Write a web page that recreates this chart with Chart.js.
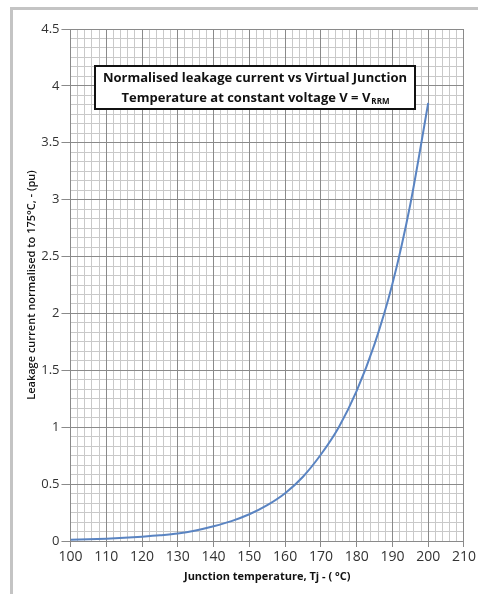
<!DOCTYPE html>
<html>
<head>
<meta charset="utf-8">
<script src="https://cdn.jsdelivr.net/npm/chart.js@4/dist/chart.umd.min.js"></script>
<style>
  html, body { margin: 0; padding: 0; background: #fff; }
  #wrap { width: 478px; height: 594px; position: relative; }
</style>
</head>
<body>
<div id="wrap"><canvas id="leakChart"></canvas></div>
<script>
// junction temperature (°C) and normalised leakage current (pu)
const tempC = [100, 105, 110, 115, 120, 125, 130, 135, 140, 145, 150, 155, 160, 165, 170, 175, 180, 185, 190, 195, 200];
const leakPu = [0.012, 0.015, 0.02, 0.028, 0.038, 0.05, 0.066, 0.093, 0.13, 0.175, 0.235, 0.315, 0.42, 0.565, 0.76, 1.0, 1.32, 1.73, 2.26, 2.96, 3.85];

const xTicks = [100, 110, 120, 130, 140, 150, 160, 170, 180, 190, 200, 210];
const yTicks = [0, 0.5, 1, 1.5, 2, 2.5, 3, 3.5, 4, 4.5];

const titleLines = ['Normalised leakage current vs Virtual Junction', 'Temperature at constant voltage V = V'];
const titleSub = 'RRM';

const FONT = '"Open Sans", "Liberation Sans", sans-serif';

// frame round the picture + the boxed title inside the plot
const decorPlugin = {
  id: 'decor',
  beforeDraw(chart) {
    const c = chart.ctx;
    c.save();
    c.fillStyle = '#fff';
    c.fillRect(0, 0, chart.width, chart.height);
    c.strokeStyle = '#c4c4c4';
    c.lineWidth = 3;
    c.strokeRect(11.5, 8.5, chart.width + 20, chart.height + 20);
    c.restore();
  },
  afterDatasetsDraw(chart) {
    const c = chart.ctx;
    const x0 = 95, y0 = 66, w = 320, h = 43;
    c.save();
    c.fillStyle = '#fff';
    c.fillRect(x0, y0, w, h);
    c.strokeStyle = '#111';
    c.lineWidth = 2;
    c.strokeRect(x0, y0, w, h);
    c.fillStyle = '#111';
    c.textBaseline = 'middle';
    c.font = 'bold 13px ' + FONT;
    c.textAlign = 'center';
    c.fillText(titleLines[0], x0 + w / 2, y0 + 12);
    // second line with subscript
    const mainW = c.measureText(titleLines[1]).width;
    c.font = 'bold 8px ' + FONT;
    const subW = c.measureText(titleSub).width;
    const start = x0 + w / 2 - (mainW + subW) / 2;
    c.textAlign = 'left';
    c.font = 'bold 13px ' + FONT;
    c.fillText(titleLines[1], start, y0 + 32);
    c.font = 'bold 8px ' + FONT;
    c.fillText(titleSub, start + mainW + 1, y0 + 36);
    c.restore();
  }
};

const ctx = document.getElementById('leakChart').getContext('2d');
new Chart(ctx, {
  type: 'line',
  data: {
    labels: tempC,
    datasets: [{
      label: 'Leakage current',
      data: tempC.map((t, i) => ({ x: t, y: leakPu[i] })),
      borderColor: '#5a84c2',
      borderWidth: 2,
      pointRadius: 0,
      fill: false,
      tension: 0.3
    }]
  },
  options: {
    responsive: true,
    maintainAspectRatio: false,
    animation: false,
    layout: { padding: { left: 25, right: 14, top: 29, bottom: 11 } },
    plugins: { legend: { display: false }, tooltip: { enabled: false } },
    scales: {
      xMinor: {
        type: 'linear', position: 'top', min: 100, max: 210, z: -1,
        ticks: { display: false, stepSize: 2 },
        grid: { color: '#c9c9c9', lineWidth: 1, drawTicks: false },
        border: { display: false }
      },
      yMinor: {
        type: 'linear', position: 'right', min: 0, max: 4.5, z: -1,
        ticks: { display: false, stepSize: 0.5 / 6 },
        grid: { color: '#c9c9c9', lineWidth: 1, drawTicks: false },
        border: { display: false }
      },
      x: {
        type: 'linear', min: 100, max: 210,
        afterBuildTicks: s => { s.ticks = xTicks.map(v => ({ value: v })); },
        ticks: { color: '#333', font: { family: FONT, size: 14 }, padding: 2, maxRotation: 0 },
        grid: { color: '#8a8a8a', lineWidth: 1, tickLength: 6 },
        border: { color: '#8a8a8a' },
        title: { display: true, text: 'Junction temperature, Tj - ( °C)', color: '#111',
                 font: { family: FONT, size: 11, weight: 'bold' }, padding: { top: 2, bottom: 0 } }
      },
      y: {
        type: 'linear', min: 0, max: 4.5,
        afterBuildTicks: s => { s.ticks = yTicks.map(v => ({ value: v })); },
        ticks: { color: '#333', font: { family: FONT, size: 13 }, padding: 2, callback: v => String(v) },
        grid: { color: '#8a8a8a', lineWidth: 1, tickLength: 9 },
        border: { color: '#8a8a8a' },
        title: { display: true, text: 'Leakage current normalised to 175°C, - (pu)', color: '#111',
                 font: { family: FONT, size: 11, weight: '600' }, padding: { top: 0, bottom: 1 } }
      }
    }
  },
  plugins: [decorPlugin]
});
</script>
</body>
</html>
